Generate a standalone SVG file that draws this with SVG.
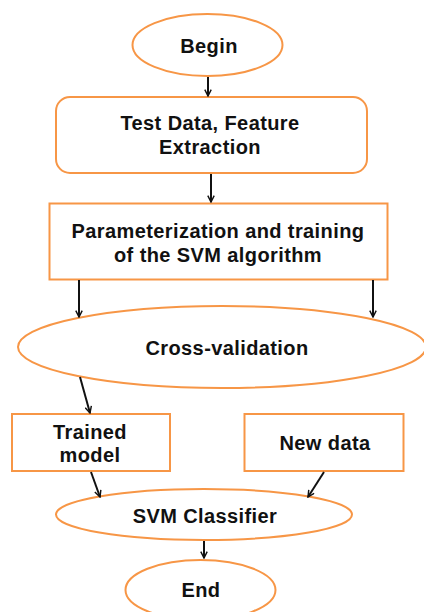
<svg xmlns="http://www.w3.org/2000/svg" width="424" height="612" viewBox="0 0 424 612">
<defs>
<style>
.n{fill:#fff;stroke:#F79646;stroke-width:2}
.t{font-family:"Liberation Sans",Arial,sans-serif;font-weight:bold;font-size:20px;letter-spacing:0.4px;fill:#111;text-anchor:middle;dominant-baseline:central}
.c{stroke:#111;stroke-width:2;fill:none;marker-end:url(#ah)}
</style>
<marker id="ah" viewBox="0 0 10 10" refX="9" refY="5" markerWidth="8" markerHeight="8" markerUnits="userSpaceOnUse" orient="auto">
<path d="M1,1 L9,5 L1,9" fill="none" stroke="#111" stroke-width="1.8"/>
</marker>
</defs>
<rect width="424" height="612" fill="#fff"/>
<g id="begin"><ellipse class="n" cx="207.5" cy="45" rx="75" ry="31"/><text class="t" x="209" y="46">Begin</text></g>
<g id="testdata"><rect class="n" x="56" y="97" width="311" height="76" rx="14"/><text class="t" x="210" y="123">Test Data, Feature</text><text class="t" x="210" y="147">Extraction</text></g>
<g id="param"><rect class="n" x="49.5" y="203.5" width="338" height="76"/><text class="t" x="218" y="231">Parameterization and training</text><text class="t" x="218" y="255">of the SVM algorithm</text></g>
<g id="crossval"><ellipse class="n" cx="222" cy="347" rx="204" ry="41"/><text class="t" x="227" y="348">Cross-validation</text></g>
<g id="trained"><rect class="n" x="12" y="414" width="158" height="57"/><text class="t" x="90" y="432">Trained</text><text class="t" x="90" y="455">model</text></g>
<g id="newdata"><rect class="n" x="244.5" y="414" width="159" height="57"/><text class="t" x="325" y="443">New data</text></g>
<g id="svm"><ellipse class="n" cx="204" cy="514.5" rx="148" ry="25.5"/><text class="t" x="205" y="516">SVM Classifier</text></g>
<g id="end"><ellipse class="n" cx="200.5" cy="590" rx="75" ry="30"/><text class="t" x="201" y="590">End</text></g>
<g id="connectors">
<path class="c" d="M208,77 L208,96"/>
<path class="c" d="M211,174 L211,202"/>
<path class="c" d="M79,280 L79,317"/>
<path class="c" d="M373,280 L373,317"/>
<path class="c" d="M80,377 L90,413"/>
<path class="c" d="M91,472 L100,497"/>
<path class="c" d="M324,472 L308,497"/>
<path class="c" d="M204,541 L204,558"/>
</g>
</svg>
